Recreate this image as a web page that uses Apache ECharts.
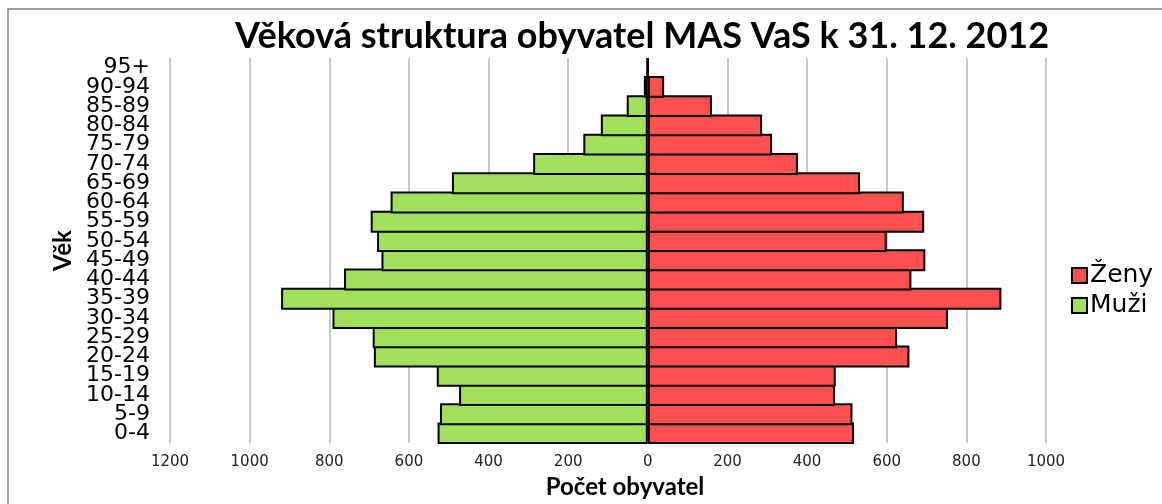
<!DOCTYPE html>
<html>
<head>
<meta charset="utf-8">
<script src="https://cdn.jsdelivr.net/npm/echarts@6/dist/echarts.min.js"></script>
<style>html,body{margin:0;padding:0;background:#fff;}#c{width:1162px;height:504px;}</style>
</head>
<body>
<div id="c"></div>
<script>
var categories = ['0-4','5-9','10-14','15-19','20-24','25-29','30-34','35-39','40-44','45-49','50-54','55-59','60-64','65-69','70-74','75-79','80-84','85-89','90-94','95+'];
var muzi = [528, 522, 474, 530, 688, 691, 792, 921, 763, 669, 680, 696, 646, 492, 288, 162, 118, 53, 10, 3];
var zeny = [518, 514, 470, 472, 657, 626, 754, 888, 662, 697, 600, 694, 643, 533, 377, 312, 287, 161, 41, 1];
var xTicks = [-1200, 1000, 200];

var gridTop = 58, gridBottom = 55, H = 504;

var chart = echarts.init(document.getElementById('c'));
chart.setOption({
  animation: false,
  backgroundColor: '#fff',
  graphic: [{
    type: 'rect', shape: {x: 8, y: 9, width: 1300, height: 700},
    style: {fill: 'none', stroke: '#808080', lineWidth: 1.5}, silent: true
  }],
  title: {
    text: 'Věková struktura obyvatel MAS VaS k 31. 12. 2012',
    left: 637, top: 13, textAlign: 'center',
    textStyle: {fontFamily: 'Lato', fontWeight: 'bold', fontSize: 36, color: '#000'}
  },
  legend: {
    orient: 'vertical', left: 1066, top: 258,
    itemWidth: 15, itemHeight: 15, itemGap: 5,
    data: ['Ženy', 'Muži'],
    textStyle: {fontFamily: 'DejaVu Sans', fontSize: 25, color: '#000', padding: [0,0,0,-2]},
    icon: 'rect'
  },
  grid: {left: 170, right: 116, top: gridTop, bottom: gridBottom},
  xAxis: {
    type: 'value', min: xTicks[0], max: xTicks[1], interval: xTicks[2],
    name: 'Počet obyvatel', nameLocation: 'middle', nameGap: 31,
    nameTextStyle: {fontFamily: 'Lato', fontWeight: 'bold', fontSize: 24, color: '#000', padding: [0,0,0,34]},
    axisLine: {show: false}, axisTick: {show: false},
    axisLabel: {fontFamily: 'DejaVu Sans', fontSize: 15, color: '#222', margin: 12,
      formatter: function (v) { return String(Math.abs(v)); }},
    splitLine: {show: true, lineStyle: {color: '#b4b4b4', width: 1.5}}
  },
  yAxis: {
    type: 'category', data: categories,
    name: 'Věk', nameLocation: 'middle', nameGap: 94, nameRotate: 90,
    nameTextStyle: {fontFamily: 'Lato', fontWeight: 'bold', fontSize: 24, color: '#000'},
    axisLine: {show: false}, axisTick: {show: false},
    axisLabel: {interval: 0, fontFamily: 'DejaVu Sans', fontSize: 22, color: '#000', margin: 20, lineHeight: 20},
    splitLine: {show: false}
  },
  series: [
    {
      name: 'Ženy', type: 'bar', stack: 'pop', barCategoryGap: '-14%',
      data: zeny,
      itemStyle: {color: '#ff5050', borderColor: '#000', borderWidth: 2}
    },
    {
      name: 'Muži', type: 'bar', stack: 'pop', barCategoryGap: '-14%',
      data: muzi.map(function (v) { return -v; }),
      itemStyle: {color: '#a0e05a', borderColor: '#000', borderWidth: 2}
    }
  ]
});
</script>
</body>
</html>
